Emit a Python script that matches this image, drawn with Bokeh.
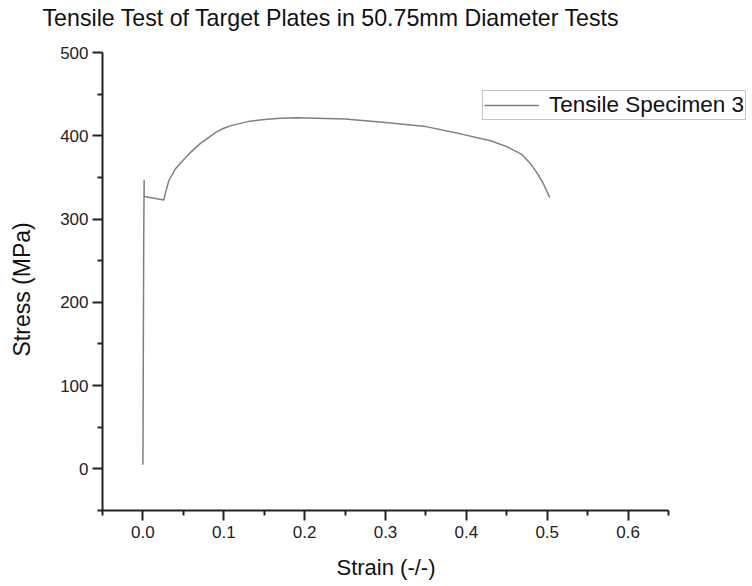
from bokeh.plotting import figure
from bokeh.models import FixedTicker, Legend, LegendItem, Title
from bokeh.embed import file_html
from bokeh.resources import INLINE

# Data
strain = [0.0, 0.0005, 0.001, 0.0015, 0.0015, 0.0015, 0.026, 0.028, 0.032, 0.04, 0.05,
          0.06, 0.07, 0.08, 0.09, 0.10, 0.11, 0.13, 0.15, 0.17, 0.19, 0.25, 0.30,
          0.35, 0.394, 0.43, 0.45, 0.468, 0.478, 0.487, 0.495, 0.503]
stress = [5, 150, 280, 347, 335, 327, 323, 332, 346, 360, 371,
          381, 390, 397, 404, 409, 412.5, 417, 419.5, 421, 421.5, 420, 416,
          411, 402, 394, 387, 378, 368, 356, 343, 326]
x_major = [0.0, 0.1, 0.2, 0.3, 0.4, 0.5, 0.6]
x_minor = [-0.05, 0.05, 0.15, 0.25, 0.35, 0.45, 0.55, 0.65]
y_major = [0, 100, 200, 300, 400, 500]
y_minor = [-50, 50, 150, 250, 350, 450]
x_axis_extent = (-0.05, 0.65)
y_axis_extent = (-50, 500)
series_name = "Tensile Specimen 3"
title_text = "Tensile Test of Target Plates in 50.75mm Diameter Tests"
x_label = "Strain (-/-)"
y_label = "Stress (MPa)"

FONT = "Liberation Sans"
AX = "#222222"

W, H = 746, 585
BL, BR, BT, BB = 102, 0, 52, 75
frame_w = W - BL - BR
axis_w = 566  # pixel length of the drawn x axis
x_end = x_axis_extent[0] + (x_axis_extent[1] - x_axis_extent[0]) * frame_w / axis_w

p = figure(width=W, height=H, x_range=(x_axis_extent[0], x_end), y_range=y_axis_extent,
           output_backend="svg", toolbar_location=None,
           min_border_left=BL, min_border_right=BR, min_border_top=BT, min_border_bottom=BB)

# title: spacer next to the frame, then the visible title further out
p.add_layout(Title(text=" ", text_font_size="2px", standoff=18), "above")
p.add_layout(Title(text=title_text, align="left", offset=-60, standoff=0,
                   vertical_align="bottom", text_font=FONT, text_font_size="23.2px",
                   text_font_style="normal", text_color="#111111"), "above")

p.outline_line_color = None
p.xgrid.visible = False
p.ygrid.visible = False
p.background_fill_color = "white"

for ax in (p.xaxis[0], p.yaxis[0]):
    ax.axis_line_color = AX
    ax.axis_line_width = 2
    ax.major_tick_line_color = AX
    ax.major_tick_line_width = 2
    ax.minor_tick_line_color = AX
    ax.minor_tick_line_width = 2
    ax.major_tick_in = 0
    ax.major_tick_out = 10
    ax.minor_tick_in = 0
    ax.minor_tick_out = 5
    ax.major_label_text_font = FONT
    ax.major_label_text_font_size = "17px"
    ax.major_label_text_color = AX
    # blank spacer labels; the real axis titles are Title annotations outside them
    ax.axis_label = " "
    ax.axis_label_text_font_size = "1px"

p.xaxis[0].bounds = x_axis_extent
p.xaxis[0].ticker = FixedTicker(ticks=x_major, minor_ticks=x_minor)
p.yaxis[0].ticker = FixedTicker(ticks=y_major, minor_ticks=y_minor)
p.xaxis[0].major_label_overrides = {v: f"{v:.1f}" for v in x_major}
p.xaxis[0].major_label_standoff = 5
p.yaxis[0].major_label_standoff = 4
p.xaxis[0].axis_label_standoff = 10
p.yaxis[0].axis_label_standoff = 19

p.add_layout(Title(text=x_label, align="left", offset=234, standoff=0,
                   vertical_align="top", text_font=FONT, text_font_size="22px",
                   text_font_style="normal", text_color="#111111"), "below")
p.add_layout(Title(text=y_label, align="left", offset=154, standoff=0,
                   vertical_align="bottom", text_font=FONT, text_font_size="23px",
                   text_font_style="normal", text_color="#111111"), "left")

r = p.line(strain, stress, line_color="#7f7f7f", line_width=1.5)

legend = Legend(items=[LegendItem(label=series_name, renderers=[r])],
                location=(380, 390), padding=1, margin=0, spacing=0,
                glyph_width=55, glyph_height=20, label_standoff=10, label_height=20,
                label_text_font=FONT, label_text_font_size="22.5px", label_text_color="#111111",
                border_line_color="#888888", border_line_width=1.5,
                background_fill_color="white", background_fill_alpha=1.0)
p.add_layout(legend, "center")

open("out.html", "w").write(file_html(p, INLINE))
